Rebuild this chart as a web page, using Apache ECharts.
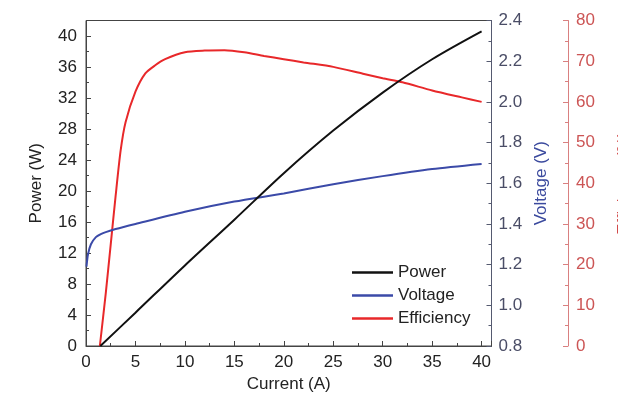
<!DOCTYPE html>
<html>
<head>
<meta charset="utf-8">
<script src="https://cdn.jsdelivr.net/npm/echarts@6/dist/echarts.min.js"></script>
<style>
html,body{margin:0;padding:0;background:#fff;}
#c{width:618px;height:399px;}
</style>
</head>
<body>
<div id="c"></div>
<script>
// Data
var xTicks = [0, 5, 10, 15, 20, 25, 30, 35, 40];
var powerCurrent = [1.45, 5, 10, 15, 20, 25, 30, 35, 40];
var powerValues = [0, 4.3, 10.4, 16.3, 22.3, 27.8, 32.7, 37.0, 40.6];

var voltageCurrent = [0.05, 0.2, 0.5, 1, 1.5, 2, 3, 5, 10, 15, 20, 25, 30, 35, 40];
var voltageValues = [1.19, 1.25, 1.30, 1.335, 1.35, 1.36, 1.375, 1.40, 1.46, 1.51, 1.55, 1.595, 1.635, 1.67, 1.695];

var effCurrent = [1.4, 2, 2.5, 3, 3.5, 4, 5, 6, 7, 8, 10, 12, 14, 16, 18, 20, 22, 25, 28, 30, 32, 35, 38, 40];
var effValues = [0, 13, 25, 37, 48, 55, 62.5, 67, 69, 70.5, 72.2, 72.6, 72.7, 72.2, 71.3, 70.5, 69.7, 68.6, 66.9, 65.8, 64.8, 62.8, 61.1, 60.0];

var seriesNames = ['Power', 'Voltage', 'Efficiency'];

function pairs(xs, ys) { return xs.map(function (x, i) { return [x, ys[i]]; }); }

var FONT = 'Liberation Sans, Arial, sans-serif';
var FS = 17;

var chart = echarts.init(document.getElementById('c'), null, {renderer: 'canvas'});
chart.setOption({
  backgroundColor: '#ffffff',
  animation: false,
  textStyle: {fontFamily: FONT},
  grid: {left: 86, right: 126.5, top: 20.5, bottom: 53, show: true, borderColor: '#444', borderWidth: 1,
    containLabel: false, outerBoundsMode: 'none'},
  legend: {
    data: seriesNames, orient: 'vertical', left: 347, top: 259,
    icon: 'rect', itemWidth: 41, itemHeight: 2.5, itemGap: 6,
    textStyle: {fontSize: FS, color: '#222', fontFamily: FONT}
  },
  xAxis: {
    type: 'value', min: 0, max: 41, interval: 5,
    name: 'Current (A)', nameLocation: 'middle', nameGap: 29,
    nameTextStyle: {fontSize: FS, color: '#222', fontFamily: FONT},
    axisLine: {show: true, lineStyle: {color: '#444', width: 1}},
    axisTick: {show: true, inside: true, length: 5, lineStyle: {color: '#444'}},
    minorTick: {show: true, splitNumber: 2, length: 3, lineStyle: {color: '#444'}},
    axisLabel: {fontSize: FS, color: '#222', margin: 8, showMaxLabel: false, fontFamily: FONT},
    splitLine: {show: false}
  },
  yAxis: [
    {
      type: 'value', position: 'left', min: 0, max: 42, interval: 4,
      name: 'Power (W)', nameLocation: 'middle', nameGap: 41, nameRotate: 90,
      nameTextStyle: {fontSize: FS, color: '#222', fontFamily: FONT},
      axisLine: {show: true, lineStyle: {color: '#444', width: 1}},
      axisTick: {show: true, inside: true, length: 5, lineStyle: {color: '#444'}},
      minorTick: {show: true, splitNumber: 2, length: 3, lineStyle: {color: '#444'}},
      axisLabel: {fontSize: FS, color: '#222', margin: 9, showMaxLabel: false, fontFamily: FONT},
      splitLine: {show: false}
    },
    {
      type: 'value', position: 'right', min: 0.8, max: 2.4, interval: 0.2,
      name: 'Voltage (V)', nameLocation: 'middle', nameGap: 41, nameRotate: 90,
      nameTextStyle: {fontSize: FS, color: '#3b4a9e', fontFamily: FONT},
      axisLine: {show: true, lineStyle: {color: '#555a70', width: 1}},
      axisTick: {show: true, inside: true, length: 5, lineStyle: {color: '#555a70'}},
      minorTick: {show: true, splitNumber: 2, length: 3, lineStyle: {color: '#555a70'}},
      axisLabel: {fontSize: FS, color: '#4a4d66', margin: 7, fontFamily: FONT,
        formatter: function (v) { return v.toFixed(1); }},
      splitLine: {show: false}
    },
    {
      type: 'value', position: 'right', offset: 76.5, min: 0, max: 80, interval: 10,
      name: 'Efficiency (%)', nameLocation: 'middle', nameGap: 48, nameRotate: 90,
      nameTextStyle: {fontSize: FS, color: '#d24a4a', fontFamily: FONT},
      axisLine: {show: true, lineStyle: {color: '#d98080', width: 1}},
      axisTick: {show: true, inside: true, length: 5, lineStyle: {color: '#d98080'}},
      minorTick: {show: true, splitNumber: 2, length: 3, lineStyle: {color: '#d98080'}},
      axisLabel: {fontSize: FS, color: '#cc5555', margin: 8, fontFamily: FONT},
      splitLine: {show: false}
    }
  ],
  series: [
    {
      name: seriesNames[0], type: 'line', yAxisIndex: 0, showSymbol: false, symbol: 'none',
      data: pairs(powerCurrent, powerValues), smooth: 0.3,
      lineStyle: {color: '#111', width: 2}, itemStyle: {color: '#111'}, z: 3
    },
    {
      name: seriesNames[1], type: 'line', yAxisIndex: 1, showSymbol: false, symbol: 'none',
      data: pairs(voltageCurrent, voltageValues), smooth: 0.25,
      lineStyle: {color: '#3b4aa8', width: 2}, itemStyle: {color: '#3b4aa8'}, z: 2
    },
    {
      name: seriesNames[2], type: 'line', yAxisIndex: 2, showSymbol: false, symbol: 'none',
      data: pairs(effCurrent, effValues), smooth: 0.25,
      lineStyle: {color: '#e8282a', width: 2}, itemStyle: {color: '#e8282a'}, z: 1
    }
  ]
});
</script>
</body>
</html>
